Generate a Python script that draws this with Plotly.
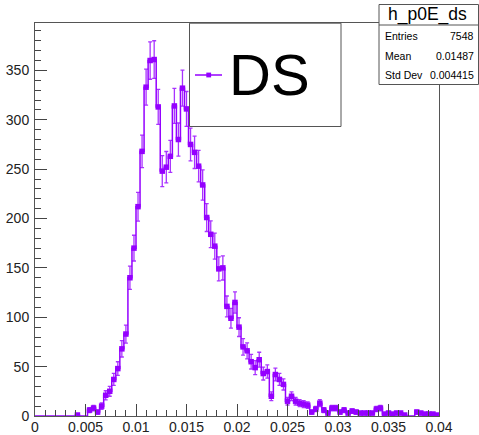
import numpy as np
import plotly.graph_objects as go

# Histogram h_p0E_ds: 100 bins on [0, 0.04]
x_min = 0.0
x_max = 0.04
n_bins = 100
counts = [
    0, 0, 0, 0, 0, 0, 0, 0, 0, 0,
    1, 0, 0, 6, 8, 4, 10, 21, 25, 37,
    48, 68, 83, 140, 170, 212, 268, 333, 360, 361,
    313, 248, 252, 263, 314, 280, 332, 311, 275, 267,
    253, 234, 201, 184, 172, 149, 150, 111, 99, 115,
    90, 70, 66, 55, 49, 57, 43, 45, 20, 42,
    37, 32, 15, 20, 15, 13, 12, 11, 4, 7,
    13, 6, 3, 8, 8, 4, 6, 3, 5, 4,
    3, 3, 3, 3, 7, 8, 2, 3, 2, 3,
    3, 1, 0, 0, 4, 3, 2, 2, 2, 1,
]

hist_name = "h_p0E_ds"
legend_label = "DS"
stat_names = ["Entries", "Mean", "Std Dev"]
stat_values = ["7548", "0.01487", "0.004415"]

y_max = 398

color = "#9400ff"
font_family = "Liberation Sans, Arial, sans-serif"

counts = np.array(counts, dtype=float)
edges = np.linspace(x_min, x_max, n_bins + 1)
centers = 0.5 * (edges[:-1] + edges[1:])
errors = np.sqrt(counts)
filled = counts > 0

fig = go.Figure()

# histogram outline as a step line over the bin edges
fig.add_trace(go.Scatter(
    x=edges,
    y=np.append(counts, counts[-1]),
    mode="lines",
    line=dict(shape="hv", color=color, width=1.5),
    hoverinfo="skip",
    showlegend=False,
))

# markers with Poisson error bars for non-empty bins
fig.add_trace(go.Scatter(
    x=centers[filled],
    y=counts[filled],
    mode="markers",
    marker=dict(symbol="square", size=5.5, color=color),
    error_y=dict(type="data", array=errors[filled], visible=True,
                 color="rgba(148,0,255,0.8)", thickness=1.3, width=2),
    showlegend=False,
))

axis_common = dict(
    showgrid=False,
    zeroline=False,
    showline=True,
    mirror=True,
    linecolor="#555555",
    linewidth=1,
    ticks="inside",
    ticklen=12,
    tickwidth=1,
    tickcolor="#444444",
    automargin=False,
    tickfont=dict(family=font_family, size=14, color="#222222"),
)

fig.update_xaxes(
    range=[x_min, x_max],
    dtick=0.005,
    tick0=0,
    tickformat="~g",
    ticklabelstandoff=-2,
    minor=dict(dtick=0.001, ticks="inside", ticklen=6, tickcolor="#444444"),
    **axis_common,
)
fig.update_yaxes(
    range=[0, y_max],
    dtick=50,
    tick0=0,
    minor=dict(dtick=10, ticks="inside", ticklen=6, tickcolor="#444444"),
    ticklabelstandoff=2,
    **axis_common,
)

W, H = 479, 435
ml, mr, mt, mb = 35, 40, 23, 19


def paper_x(p):
    return (p - ml) / (W - ml - mr)


def paper_y(p):
    return (H - mb - p) / (H - mt - mb)


shapes = []
annotations = []

# legend box with line + marker sample and label
shapes.append(dict(type="rect", xref="paper", yref="paper", layer="above",
                   x0=paper_x(189.5), x1=paper_x(341),
                   y0=paper_y(126.5), y1=paper_y(23.2),
                   fillcolor="white", line=dict(color="#555555", width=1)))
leg_y = paper_y(75)
shapes.append(dict(type="line", xref="paper", yref="paper", layer="above",
                   x0=paper_x(195), x1=paper_x(222),
                   y0=leg_y, y1=leg_y, line=dict(color=color, width=1.5)))
mx = paper_x(208.7)
hw = 2.4 / (W - ml - mr)
hh = 2.4 / (H - mt - mb)
shapes.append(dict(type="rect", xref="paper", yref="paper", layer="above",
                   x0=mx - hw, x1=mx + hw, y0=leg_y - hh, y1=leg_y + hh,
                   fillcolor=color, line=dict(width=0)))
annotations.append(dict(text=legend_label, xref="paper", yref="paper",
                        x=paper_x(227), y=leg_y,
                        xanchor="left", yanchor="middle", showarrow=False,
                        font=dict(family=font_family, size=58, color="black")))

# statistics box
sx0, sx1 = 379, 478.5
sy0, sy1, sdiv = 4.5, 84.5, 25
shapes.append(dict(type="rect", xref="paper", yref="paper", layer="above",
                   x0=paper_x(sx0), x1=paper_x(sx1),
                   y0=paper_y(sy1), y1=paper_y(sy0),
                   fillcolor="white", line=dict(color="#555555", width=1)))
shapes.append(dict(type="line", xref="paper", yref="paper", layer="above",
                   x0=paper_x(sx0), x1=paper_x(sx1),
                   y0=paper_y(sdiv), y1=paper_y(sdiv),
                   line=dict(color="#555555", width=1)))
annotations.append(dict(text=hist_name, xref="paper", yref="paper",
                        x=paper_x(427), y=paper_y(14.5),
                        xanchor="center", yanchor="middle", showarrow=False,
                        font=dict(family=font_family, size=17.5, color="black")))
row_y = [35.5, 55.5, 75.5]
for name, val, ry in zip(stat_names, stat_values, row_y):
    annotations.append(dict(text=name, xref="paper", yref="paper",
                            x=paper_x(382.5), y=paper_y(ry),
                            xanchor="left", yanchor="middle", showarrow=False,
                            font=dict(family=font_family, size=10.5, color="black")))
    annotations.append(dict(text=val, xref="paper", yref="paper",
                            x=paper_x(476), y=paper_y(ry),
                            xanchor="right", yanchor="middle", showarrow=False,
                            font=dict(family=font_family, size=10.5, color="black")))

fig.update_layout(
    width=W,
    height=H,
    margin=dict(l=ml, r=mr, t=mt, b=mb, pad=0, autoexpand=False),
    paper_bgcolor="white",
    plot_bgcolor="white",
    showlegend=False,
    shapes=shapes,
    annotations=annotations,
)

fig.write_html("out.html", config={"displayModeBar": False})
